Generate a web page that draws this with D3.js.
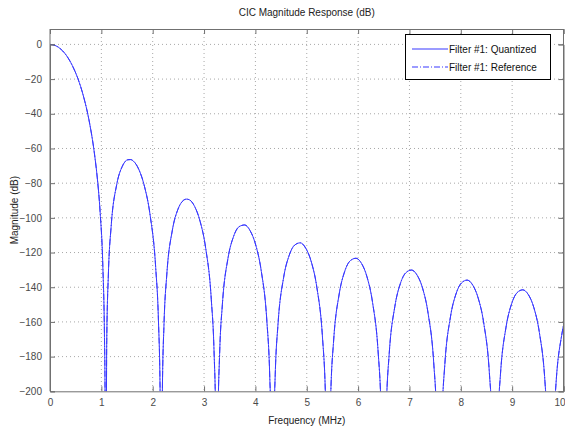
<!DOCTYPE html>
<html><head><meta charset="utf-8">
<script src="https://cdn.jsdelivr.net/npm/d3@7"></script>
<style>
html,body{margin:0;padding:0;background:#fff;}
svg{display:block;font-family:"Liberation Sans",Arial,sans-serif;}
</style></head>
<body><svg id="chart" width="565" height="429"></svg>
<script>
// ---- data ----
const freqMHz = [
  0,0.108,0.217,0.325,0.433,0.542,0.650,0.758,0.866,0.921,0.975,1.029,1.061,1.072,
  1.083,
  1.105,1.137,1.191,1.300,1.408,1.516,1.570,1.625,1.733,1.841,1.949,2.058,2.112,2.144,
  2.166,
  2.188,2.220,2.274,2.383,2.491,2.599,2.653,2.708,2.816,2.924,3.032,3.141,3.195,3.227,
  3.249,
  3.271,3.303,3.357,3.466,3.574,3.682,3.791,3.899,4.007,4.115,4.224,4.278,4.310,
  4.332,
  4.354,4.386,4.440,4.549,4.657,4.765,4.874,4.982,5.090,5.198,5.307,5.361,5.393,
  5.415,
  5.437,5.469,5.523,5.632,5.740,5.848,5.957,6.065,6.173,6.281,6.390,6.444,6.476,
  6.498,
  6.520,6.552,6.606,6.715,6.823,6.931,7.040,7.148,7.256,7.364,7.473,7.527,7.559,
  7.581,
  7.603,7.635,7.689,7.798,7.906,8.014,8.123,8.231,8.339,8.447,8.556,8.610,8.642,
  8.664,
  8.686,8.718,8.772,8.881,8.989,9.097,9.206,9.314,9.422,9.530,9.639,9.693,9.725,
  9.747,
  9.769,9.801,9.855,9.964,10.0
];
const quantizedDb = [
  0,-0.7,-2.9,-6.6,-12.1,-19.6,-29.7,-43.4,-63.1,-77.0,-96.2,-128.0,-169.0,-200.0,
  -320,
  -170.8,-132.4,-104.9,-80.7,-70.3,-66.5,-66.4,-67.3,-72.3,-82.0,-98.3,-128.6,-159.3,-199.6,
  -320,
  -200.5,-161.5,-132.9,-107.1,-95.1,-89.9,-89.2,-89.5,-93.4,-102.1,-117.5,-147.0,-177.3,-217.3,
  -320,
  -217.9,-178.7,-149.9,-123.3,-110.8,-105.1,-104.1,-107.5,-115.7,-130.8,-159.8,-190.0,-229.9,
  -320,
  -229.7,-190.5,-161.4,-134.5,-121.7,-115.7,-114.4,-117.6,-125.5,-140.3,-169.1,-199.2,-239.0,
  -320,
  -239.5,-200.1,-171.0,-143.9,-130.8,-124.7,-123.3,-126.2,-134.0,-148.7,-177.3,-207.3,-247.1,
  -320,
  -247.0,-207.6,-178.3,-151.2,-137.9,-131.6,-130.1,-133.0,-140.6,-155.2,-183.7,-213.6,-253.4,
  -320,
  -253.2,-213.8,-184.5,-157.2,-143.9,-137.5,-135.9,-138.7,-146.3,-160.7,-189.2,-219.1,-258.8,
  -320,
  -259.1,-219.7,-190.4,-163.0,-149.6,-143.1,-141.5,-144.2,-151.7,-166.1,-194.5,-224.3,-264.0,
  -320,
  -264.0,-224.6,-195.2,-167.8,-162.0
];
const referenceDb = quantizedDb.slice(); // reference overlays the quantized response
const xTicks = [0,1,2,3,4,5,6,7,8,9,10];
const yTicks = [0,-20,-40,-60,-80,-100,-120,-140,-160,-180,-200];
const seriesNames = ["Filter #1: Quantized","Filter #1: Reference"];
const titleText = "CIC Magnitude Response (dB)";
const xLabel = "Frequency (MHz)";
const yLabel = "Magnitude (dB)";

// ---- layout ----
const L = 50, R = 563.5, T = 29, B = 391.3;
const svg = d3.select("#chart");
const x = d3.scaleLinear().domain([0,10]).range([L,R]);
const y = d3.scaleLinear().domain([-200,0]).range([B,44.4]);

const txtCol = "#4a4a4a", axCol = "#707070", lineCol = "#3838ff";

// grid
const g = svg.append("g");
g.selectAll(".vg").data(xTicks.slice(1,-1)).enter().append("line")
  .attr("x1",d=>x(d)).attr("x2",d=>x(d)).attr("y1",T).attr("y2",B)
  .attr("stroke","#a8a8a8").attr("stroke-width",1).attr("stroke-dasharray","1,3");
g.selectAll(".hg").data(yTicks.slice(0,-1)).enter().append("line")
  .attr("x1",L).attr("x2",R).attr("y1",d=>y(d)).attr("y2",d=>y(d))
  .attr("stroke","#a8a8a8").attr("stroke-width",1).attr("stroke-dasharray","1,3");

// clip
svg.append("clipPath").attr("id","clip").append("rect")
  .attr("x",L).attr("y",T).attr("width",R-L).attr("height",B-T);

const pts = (arr)=>freqMHz.map((f,i)=>[f,arr[i]]);
const line = d3.line().x(d=>x(d[0])).y(d=>y(d[1])).curve(d3.curveMonotoneX);
svg.append("path").datum(pts(referenceDb)).attr("d",line).attr("clip-path","url(#clip)")
  .attr("fill","none").attr("stroke",lineCol).attr("stroke-width",1)
  .attr("stroke-dasharray","6,2,1,2");
svg.append("path").datum(pts(quantizedDb)).attr("d",line).attr("clip-path","url(#clip)")
  .attr("fill","none").attr("stroke",lineCol).attr("stroke-width",1);

// axes (box with inward ticks on all sides)
const axB = d3.axisBottom(x).tickValues(xTicks).tickSize(-5).tickPadding(8).tickFormat(d3.format("d"));
const axT = d3.axisTop(x).tickValues(xTicks).tickSize(-5).tickFormat("");
const axLft = d3.axisLeft(y).tickValues(yTicks).tickSize(-5).tickPadding(8).tickFormat(d3.format("d"));
const axRgt = d3.axisRight(y).tickValues(yTicks).tickSize(-5).tickFormat("");
function style(sel){
  sel.selectAll("path,line").attr("stroke",axCol);
  sel.selectAll("text").attr("fill",txtCol).style("font-size","10px").style("font-family","Liberation Sans, Arial, sans-serif");
}
const gB = svg.append("g").attr("transform",`translate(0,${B})`).call(axB).call(style);
// keep the last label ("10") inside the picture
gB.selectAll(".tick text").filter(d=>d===10).attr("text-anchor","end").attr("x",565-x(10));
svg.append("g").attr("transform",`translate(0,${T})`).call(axT).call(style);
svg.append("g").attr("transform",`translate(${L},0)`).call(axLft).call(style);
svg.append("g").attr("transform",`translate(${R},0)`).call(axRgt).call(style);
svg.append("line").attr("x1",L).attr("x2",L).attr("y1",T).attr("y2",B).attr("stroke",axCol);
svg.append("line").attr("x1",R).attr("x2",R).attr("y1",T).attr("y2",B).attr("stroke",axCol);
svg.selectAll(".domain").attr("stroke",axCol);

// titles
svg.append("text").attr("x",(L+R)/2).attr("y",16).attr("text-anchor","middle")
  .attr("fill","#222").style("font-size","10px").text(titleText);
svg.append("text").attr("x",(L+R)/2).attr("y",424).attr("text-anchor","middle")
  .attr("fill","#222").style("font-size","10px").text(xLabel);
svg.append("text").attr("transform",`translate(18,${(T+B)/2}) rotate(-90)`).attr("text-anchor","middle")
  .attr("fill","#222").style("font-size","10px").text(yLabel);

// legend
const lg = svg.append("g");
lg.append("rect").attr("x",405.5).attr("y",34.5).attr("width",145).attr("height",45)
  .attr("fill","#fff").attr("stroke","#000").attr("stroke-width",1);
const rows = [{y:49,dash:null},{y:67,dash:"6,2,1,2"}];
rows.forEach((r,i)=>{
  lg.append("line").attr("x1",412).attr("x2",448).attr("y1",r.y).attr("y2",r.y)
    .attr("stroke",lineCol).attr("stroke-width",1.2).attr("stroke-dasharray",r.dash);
  lg.append("text").attr("x",449).attr("y",r.y+3.5).attr("fill","#111")
    .style("font-size","10px").text(seriesNames[i]);
});
</script></body></html>
